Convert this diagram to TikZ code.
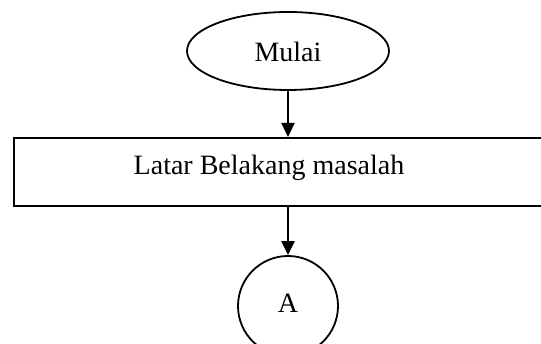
\documentclass[tikz,border=0pt]{standalone}
\usepackage{fontspec}
\setmainfont{Liberation Serif}
\usetikzlibrary{shapes.geometric,arrows.meta}
\begin{document}
\begin{tikzpicture}[x=1pt,y=-1pt,
  shapeline/.style={draw=black,line width=1.8pt},
  conn/.style={line width=2.2pt,-{Triangle[length=14pt,width=13pt]}},
  lbl/.style={font=\fontsize{28}{32}\selectfont}]
\clip (0,0) rectangle (541,344);
\useasboundingbox (0,0) rectangle (541,344);
\node[shapeline,ellipse,minimum width=202pt,minimum height=78pt,inner sep=0pt] (m) at (288,51) {};
\node[lbl] (mt) at (288,52) {Mulai};
\node[shapeline,rectangle,minimum width=536pt,minimum height=68pt,inner sep=0pt,anchor=north west] (lb) at (13,137) {};
\node[lbl] (lbt) at (269,168) {Latar Belakang masalah};
\node[shapeline,circle,minimum size=100pt,inner sep=0pt] (a) at (288,306) {};
\node[lbl] (at) at (288,303) {A};
\draw[conn] (m.south) -- (m.south |- lb.north);
\draw[conn] (a.north |- lb.south) -- (a.north);
\end{tikzpicture}
\end{document}
